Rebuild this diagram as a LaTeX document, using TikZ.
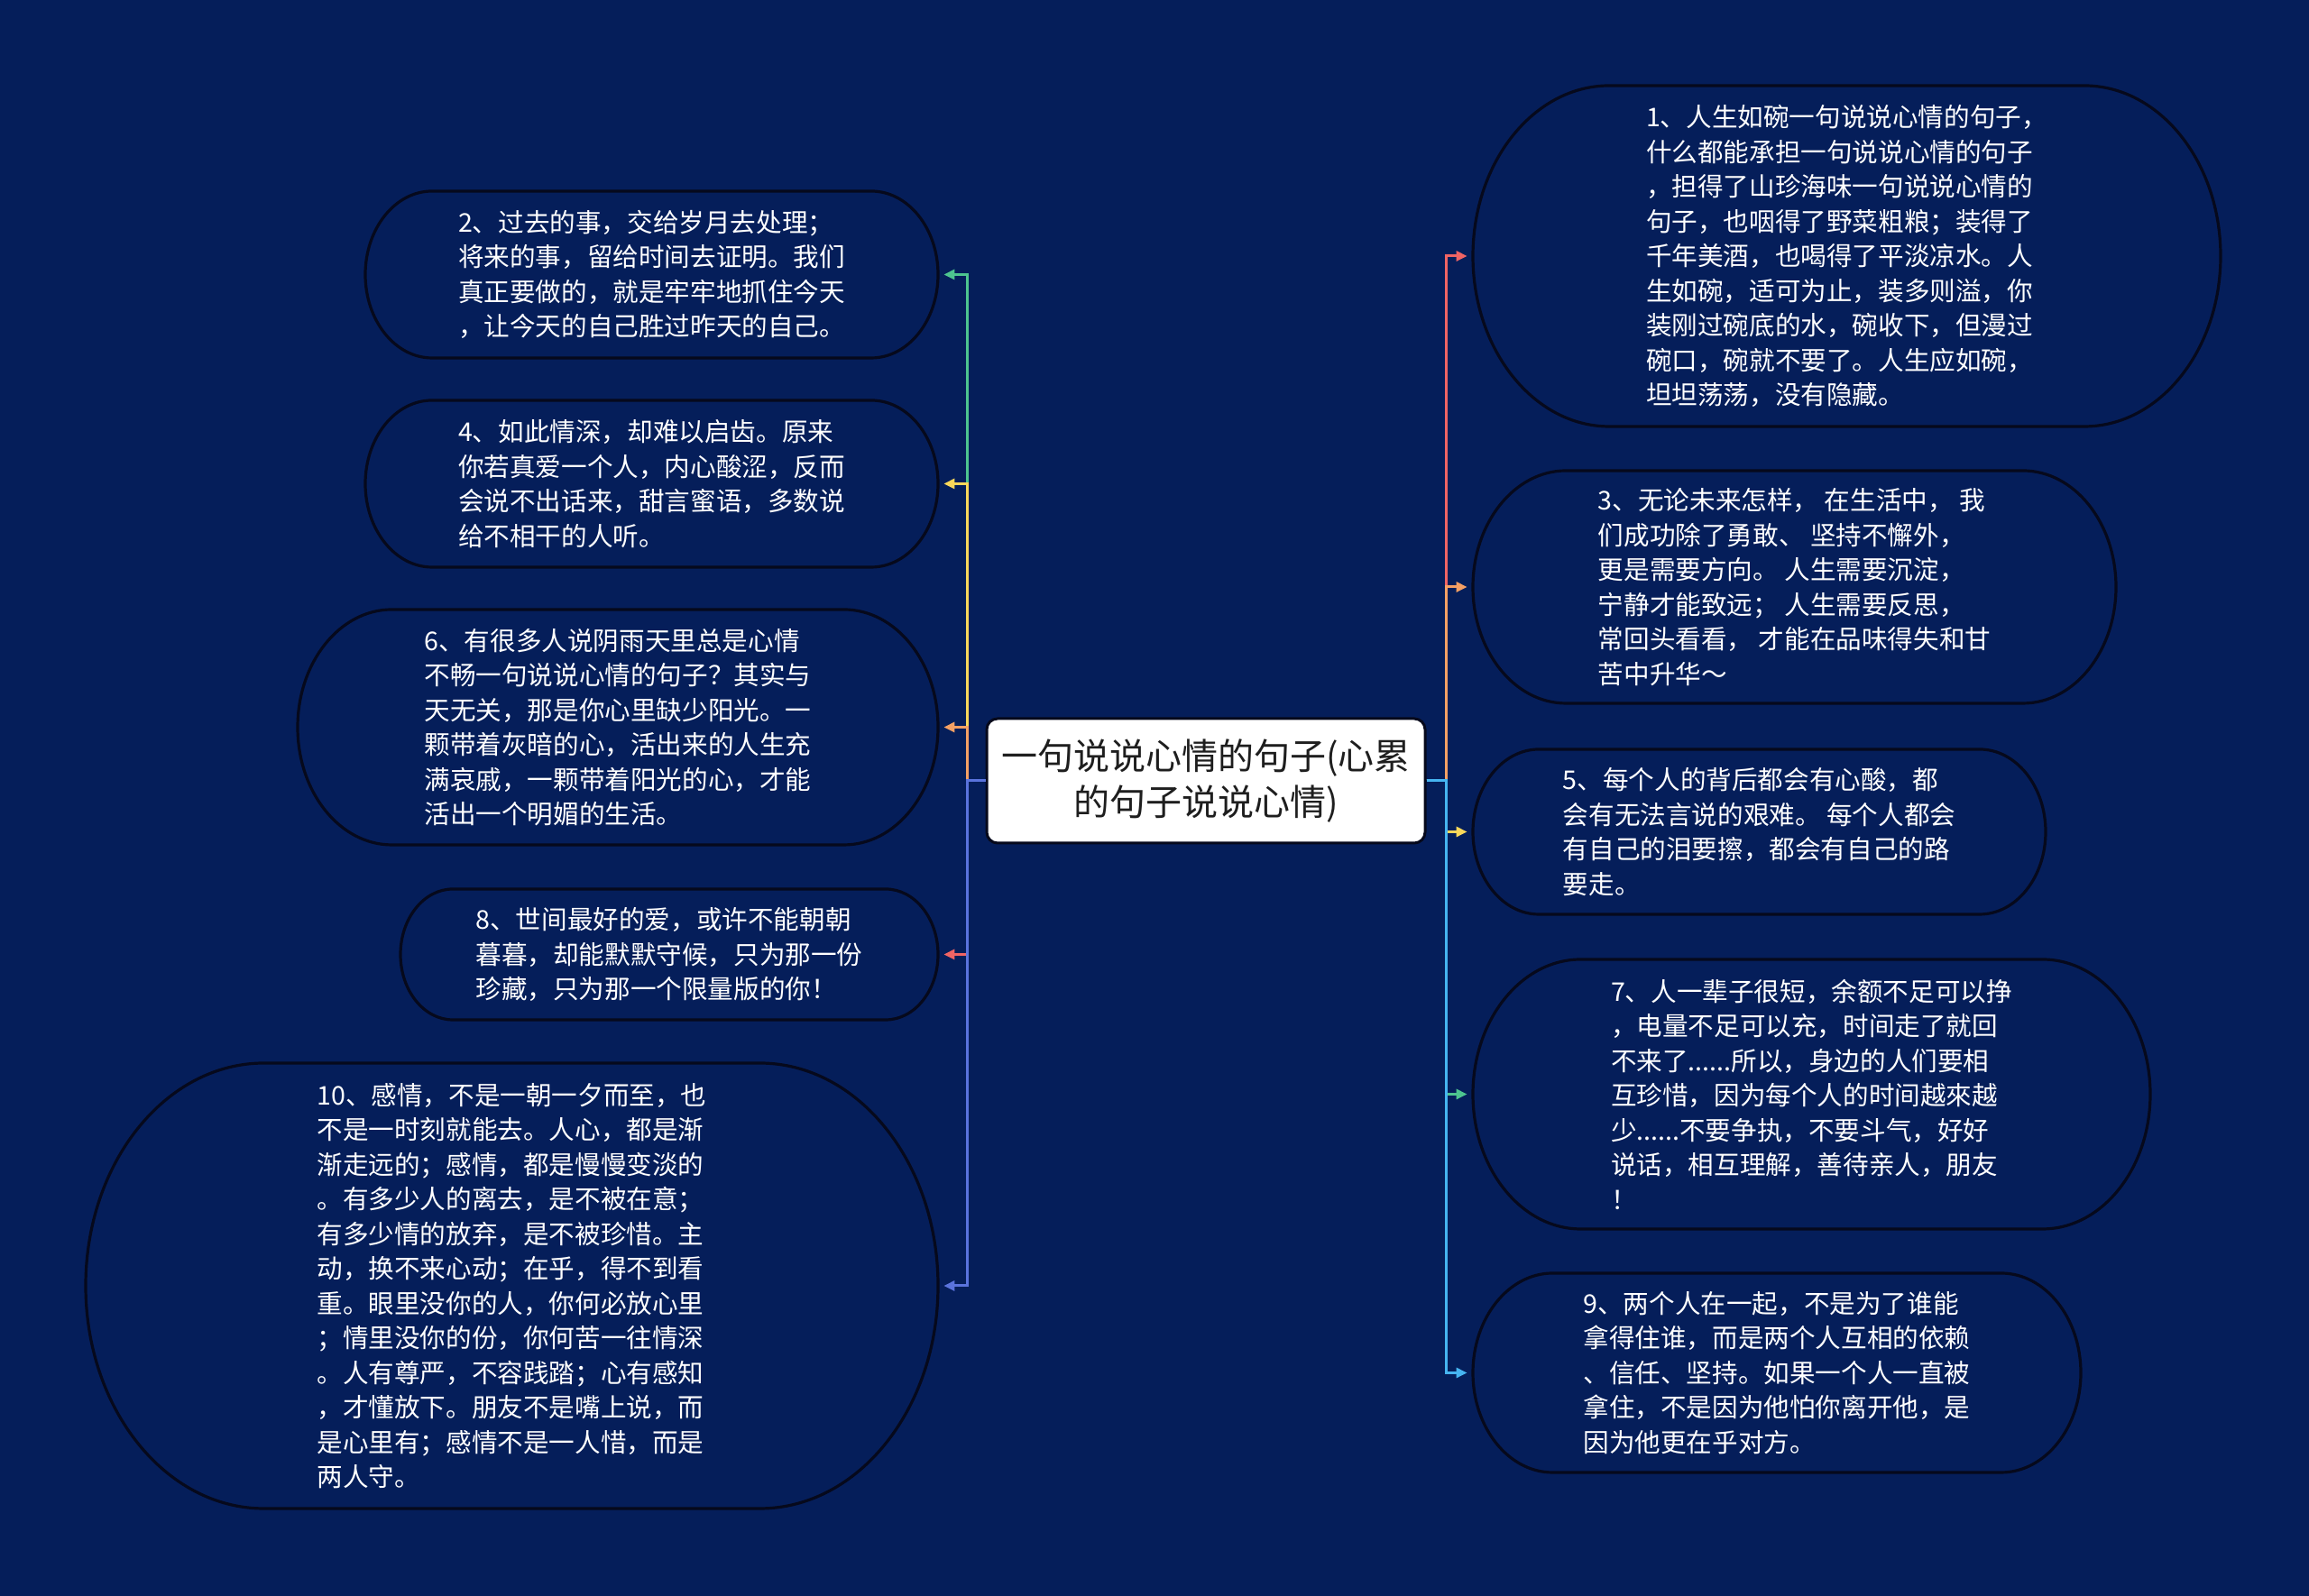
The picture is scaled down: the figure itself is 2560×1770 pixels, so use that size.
\documentclass[tikz,border=0pt]{standalone}
\usepackage{fontspec}
\setmainfont{Noto Sans CJK SC}
\usetikzlibrary{arrows.meta}
\definecolor{bg}{RGB}{5,30,90}
\definecolor{bubedge}{RGB}{6,9,28}
\definecolor{cgreen}{RGB}{77,196,143}
\definecolor{cyellow}{RGB}{250,215,90}
\definecolor{corange}{RGB}{245,160,100}
\definecolor{cred}{RGB}{240,100,100}
\definecolor{cblue}{RGB}{90,115,220}
\definecolor{clblue}{RGB}{70,180,240}
\newcommand\bubshape[3]{%
  \pgfmathsetmacro\bh{#3/2}%
  \pgfmathsetmacro\brx{0.8*#3/2}%
  \pgfmathsetmacro\bw{#2/2-\brx}%
  \draw[bubline] (#1.center) ++(-\bw,\bh) -- ++(2*\bw,0)
    arc[start angle=90,end angle=-90,x radius=\brx,y radius=\bh]
    -- ++(-2*\bw,0)
    arc[start angle=270,end angle=90,x radius=\brx,y radius=\bh] -- cycle;}
\newcommand\bubnode[6]{%
  \node[bubble, minimum width=#4*0.5pt, minimum height=#5*0.5pt] (#1) at (#2,#3) {#6};
  \bubshape{#1}{#4}{#5}}
\begin{document}
\begin{tikzpicture}[x=0.5pt,y=0.5pt,
  bubble/.style={inner sep=0pt, text=white, align=left, font=\fontsize{14.3pt}{19.25pt}\selectfont},
  bubline/.style={draw=bubedge, line width=1.6pt},
  link/.style={line width=1.5pt, -{Triangle[length=6pt,width=5.5pt]}, shorten >=3pt},
  root/.style={draw=bubedge, fill=white, line width=1.5pt, rounded corners=6pt,
    minimum width=243pt, minimum height=69pt, inner sep=0pt, align=center,
    text={rgb,255:red,30;green,30;blue,30}, font=\fontsize{20pt}{25.5pt}\selectfont}]
\fill[bg] (0,0) rectangle (2560,1770);
\useasboundingbox (0,0) rectangle (2560,1770);

\node[root] (c) at (1337,904) {一句说说心情的句子(心累\\的句子说说心情)};

% right side
\bubnode{b1}{2047.5}{1486}{829}{378}{1、人生如碗一句说说心情的句子，\\什么都能承担一句说说心情的句子\\，担得了山珍海味一句说说心情的\\句子，也咽得了野菜粗粮；装得了\\千年美酒，也喝得了平淡凉水。人\\生如碗，适可为止，装多则溢，你\\装刚过碗底的水，碗收下，但漫过\\碗口，碗就不要了。人生应如碗，\\坦坦荡荡，没有隐藏。}
\bubnode{b3}{1989.5}{1119}{713}{258}{3、无论未来怎样， 在生活中， 我\\们成功除了勇敢、 坚持不懈外，\\更是需要方向。 人生需要沉淀，\\宁静才能致远； 人生需要反思，\\常回头看看， 才能在品味得失和甘\\苦中升华～}
\bubnode{b5}{1950.5}{847.5}{635}{183}{5、每个人的背后都会有心酸，都\\会有无法言说的艰难。 每个人都会\\有自己的泪要擦，都会有自己的路\\要走。}
\bubnode{b7}{2008.5}{556.5}{751}{299}{7、人一辈子很短，余额不足可以挣\\，电量不足可以充，时间走了就回\\不来了......所以，身边的人们要相\\互珍惜，因为每个人的时间越來越\\少......不要争执，不要斗气，好好\\说话，相互理解，善待亲人，朋友\\！}
\bubnode{b9}{1970}{247.5}{674}{221}{9、两个人在一起，不是为了谁能\\拿得住谁，而是两个人互相的依赖\\、信任、坚持。如果一个人一直被\\拿住，不是因为他怕你离开他，是\\因为他更在乎对方。}

% left side
\bubnode{b2}{722.5}{1465.5}{635}{185}{2、过去的事，交给岁月去处理；\\将来的事，留给时间去证明。我们\\真正要做的，就是牢牢地抓住今天\\，让今天的自己胜过昨天的自己。}
\bubnode{b4}{722.5}{1233.5}{635}{185}{4、如此情深，却难以启齿。原来\\你若真爱一个人，内心酸涩，反而\\会说不出话来，甜言蜜语，多数说\\给不相干的人听。}
\bubnode{b6}{685}{963.5}{710}{261}{6、有很多人说阴雨天里总是心情\\不畅一句说说心情的句子？其实与\\天无关，那是你心里缺少阳光。一\\颗带着灰暗的心，活出来的人生充\\满哀戚，一颗带着阳光的心，才能\\活出一个明媚的生活。}
\bubnode{b8}{742}{711.5}{596}{145}{8、世间最好的爱，或许不能朝朝\\暮暮，却能默默守候，只为那一份\\珍藏，只为那一个限量版的你！}
\bubnode{b10}{567.5}{344}{945}{494}{10、感情，不是一朝一夕而至，也\\不是一时刻就能去。人心，都是渐\\渐走远的；感情，都是慢慢变淡的\\。有多少人的离去，是不被在意；\\有多少情的放弃，是不被珍惜。主\\动，换不来心动；在乎，得不到看\\重。眼里没你的人，你何必放心里\\；情里没你的份，你何苦一往情深\\。人有尊严，不容践踏；心有感知\\，才懂放下。朋友不是嘴上说，而\\是心里有；感情不是一人惜，而是\\两人守。}

% connectors left
\draw[link, cgreen] (c.west) -- ++(-20,0) |- (b2.east);
\draw[link, cyellow] (c.west) -- ++(-20,0) |- (b4.east);
\draw[link, corange] (c.west) -- ++(-20,0) |- (b6.east);
\draw[link, cred] (c.west) -- ++(-20,0) |- (b8.east);
\draw[link, cblue] (c.west) -- ++(-20,0) |- (b10.east);
% connectors right
\draw[link, cred] (c.east) -- ++(22,0) |- (b1.west);
\draw[link, corange] (c.east) -- ++(22,0) |- (b3.west);
\draw[link, cyellow] (c.east) -- ++(22,0) |- (b5.west);
\draw[link, cgreen] (c.east) -- ++(22,0) |- (b7.west);
\draw[link, clblue] (c.east) -- ++(22,0) |- (b9.west);
\end{tikzpicture}
\end{document}
